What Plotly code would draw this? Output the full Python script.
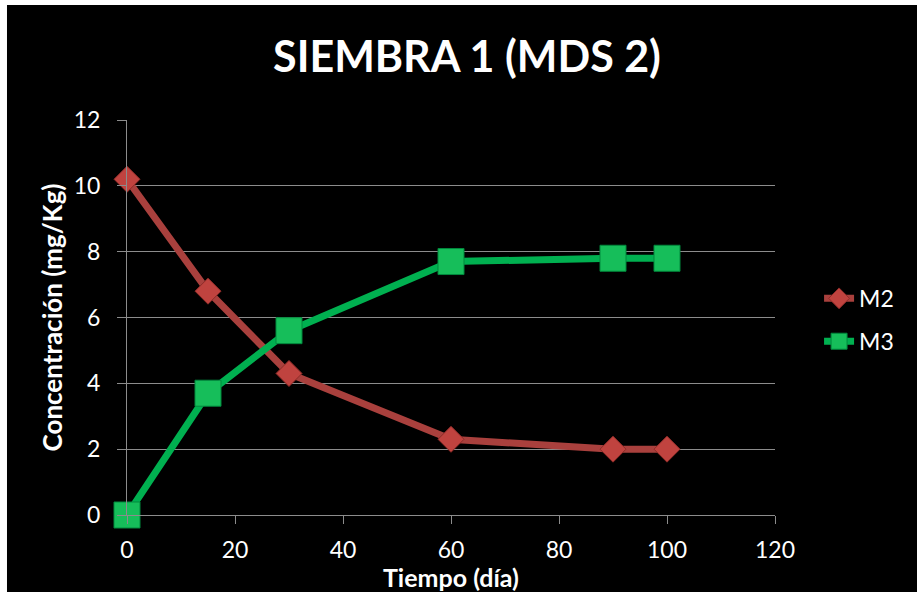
import plotly.graph_objects as go

# Sampling days and measured concentrations (mg/Kg)
dias = [0, 15, 30, 60, 90, 100]
m2 = [10.2, 6.8, 4.3, 2.3, 2.0, 2.0]
m3 = [0.0, 3.7, 5.6, 7.7, 7.8, 7.8]

x_ticks = [0, 20, 40, 60, 80, 100, 120]
y_ticks = [0, 2, 4, 6, 8, 10, 12]

FONT = "Lato"
GRID = "#8c8c8c"

fig = go.Figure()

fig.add_trace(go.Scatter(
    x=dias, y=m2, name="M2", mode="lines+markers", legendgroup="m2",
    cliponaxis=False,
    line=dict(color="#A9403D", width=7),
    marker=dict(symbol="diamond", size=20, color="#C0433F",
                line=dict(color="#8E2B28", width=1)),
))
fig.add_trace(go.Scatter(
    x=dias, y=m3, name="M3", mode="lines+markers", legendgroup="m3",
    cliponaxis=False,
    line=dict(color="#00B050", width=7),
    marker=dict(symbol="square", size=26, color="#16BE5A",
                line=dict(color="#00893D", width=1)),
))

# Thin white frame at the top and left edges of the canvas
fig.add_shape(type="rect", xref="paper", yref="paper",
              x0=-0.1852, x1=1.25, y0=-0.25, y1=1.2911,
              fillcolor="black", line=dict(width=0), layer="below")

fig.update_layout(
    width=917, height=592,
    paper_bgcolor="white",
    plot_bgcolor="#404040",
    margin=dict(l=127, r=142, t=120, b=77),
    font=dict(family=FONT, color="white"),
    title=dict(text="<b>SIEMBRA 1 (MDS 2)</b>", x=467 / 917, xanchor="center",
               y=1 - 57 / 592, yanchor="middle", yref="container",
               font=dict(family=FONT, size=43, color="white")),
    legend=dict(x=1.068, y=0.494, xanchor="left", yanchor="middle",
                traceorder="grouped", tracegroupgap=10,
                font=dict(family=FONT, size=23, color="white"),
                bgcolor="rgba(0,0,0,0)"),
    xaxis=dict(
        range=[0, 120], tickvals=x_ticks, ticktext=[str(v) for v in x_ticks],
        showgrid=False, zeroline=False,
        showline=True, linecolor=GRID, linewidth=1, mirror=False,
        ticks="outside", ticklen=8, tickcolor=GRID, ticklabelstandoff=6,
        tickfont=dict(family=FONT, size=23, color="white"),
        title=dict(text="<b>Tiempo (día)</b>", standoff=0,
                   font=dict(family=FONT, size=25, color="white")),
    ),
    yaxis=dict(
        range=[0, 12], tickvals=y_ticks, ticktext=[str(v) for v in y_ticks],
        showgrid=True, gridcolor=GRID, gridwidth=1, zeroline=False,
        showline=True, linecolor=GRID, linewidth=1,
        ticks="outside", ticklen=9, tickcolor=GRID, ticklabelstandoff=12,
        tickfont=dict(family=FONT, size=23, color="white"),
        title=dict(text="<b>Concentración (mg/Kg)</b>", standoff=3,
                   font=dict(family=FONT, size=26, color="white")),
    ),
)

fig.write_html("out.html")
